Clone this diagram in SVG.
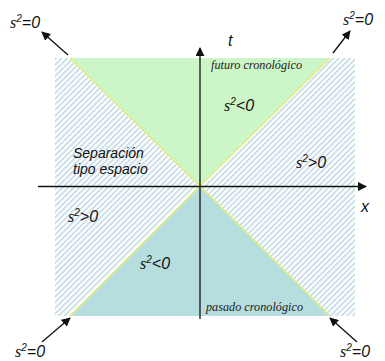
<svg xmlns="http://www.w3.org/2000/svg" width="385" height="361" viewBox="0 0 385 361">
<defs>
<pattern id="hatch" patternUnits="userSpaceOnUse" width="4" height="4" patternTransform="rotate(45)">
<rect width="4" height="4" fill="#ffffff"/>
<rect width="1.6" height="4" fill="#c2d9e4"/>
</pattern>
<marker id="ah" viewBox="0 0 10 10" refX="9" refY="5" markerWidth="9" markerHeight="9" markerUnits="userSpaceOnUse" orient="auto">
<path d="M0,0 L10,5 L0,10 z" fill="#111"/>
</marker>
</defs>
<style>
.lbl{font-family:"Liberation Sans",Arial,sans-serif;font-style:italic;font-size:16px;fill:#111}
.s{font-family:"Liberation Serif","Times New Roman",serif;font-style:italic}
.sup{font-size:10px}
.small{font-family:"Liberation Serif","Times New Roman",serif;font-style:italic;font-size:12px;fill:#222}
.bold{font-family:"Liberation Sans",Arial,sans-serif;font-style:italic;font-size:14px;fill:#111}
.cone{stroke:#e4ee78;stroke-width:1.5;fill:none}
.arr{stroke:#111;stroke-width:1.3;fill:none;marker-end:url(#ah)}
</style>
<g id="regions">
<rect x="55" y="58" width="300" height="258" fill="url(#hatch)"/>
<polygon id="future" points="70,58 330,58 200,186" fill="#ccf5c8"/>
<polygon id="past" points="70,316 330,316 200,186" fill="#b6dedf"/>
<polyline class="cone" points="70,58 200,186 330,58"/>
<polyline class="cone" points="70,316 200,186 330,316"/>
</g>
<g id="connectors">
<line class="arr" x1="200" y1="319" x2="200" y2="48"/>
<line class="arr" x1="38" y1="186.5" x2="366" y2="186.5"/>
<line class="arr" x1="68" y1="55" x2="42" y2="32"/>
<line class="arr" x1="333" y1="53" x2="350" y2="31"/>
<line class="arr" x1="42" y1="342" x2="70" y2="318"/>
<line class="arr" x1="357" y1="342" x2="330" y2="318"/>
</g>
<g id="labels">
<text class="lbl" x="228" y="46">t</text>
<text class="lbl" x="361" y="212">x</text>
<text class="small" x="211" y="69" textLength="91" lengthAdjust="spacingAndGlyphs">futuro cronológico</text>
<text class="small" x="206" y="311" textLength="97" lengthAdjust="spacingAndGlyphs">pasado cronológico</text>
<text class="lbl" x="224" y="111"><tspan class="s">s</tspan><tspan class="sup" dy="-6">2</tspan><tspan dy="6">&lt;0</tspan></text>
<text class="lbl" x="296" y="168"><tspan class="s">s</tspan><tspan class="sup" dy="-6">2</tspan><tspan dy="6">&gt;0</tspan></text>
<text class="lbl" x="68" y="222"><tspan class="s">s</tspan><tspan class="sup" dy="-6">2</tspan><tspan dy="6">&gt;0</tspan></text>
<text class="lbl" x="140" y="269"><tspan class="s">s</tspan><tspan class="sup" dy="-6">2</tspan><tspan dy="6">&lt;0</tspan></text>
<text class="bold" x="73" y="158">Separación</text>
<text class="bold" x="73" y="174">tipo espacio</text>
<text class="lbl" x="10" y="28"><tspan class="s">s</tspan><tspan class="sup" dy="-6">2</tspan><tspan dy="6">=0</tspan></text>
<text class="lbl" x="343" y="25"><tspan class="s">s</tspan><tspan class="sup" dy="-6">2</tspan><tspan dy="6">=0</tspan></text>
<text class="lbl" x="15" y="357"><tspan class="s">s</tspan><tspan class="sup" dy="-6">2</tspan><tspan dy="6">=0</tspan></text>
<text class="lbl" x="340" y="357"><tspan class="s">s</tspan><tspan class="sup" dy="-6">2</tspan><tspan dy="6">=0</tspan></text>
</g>
</svg>
